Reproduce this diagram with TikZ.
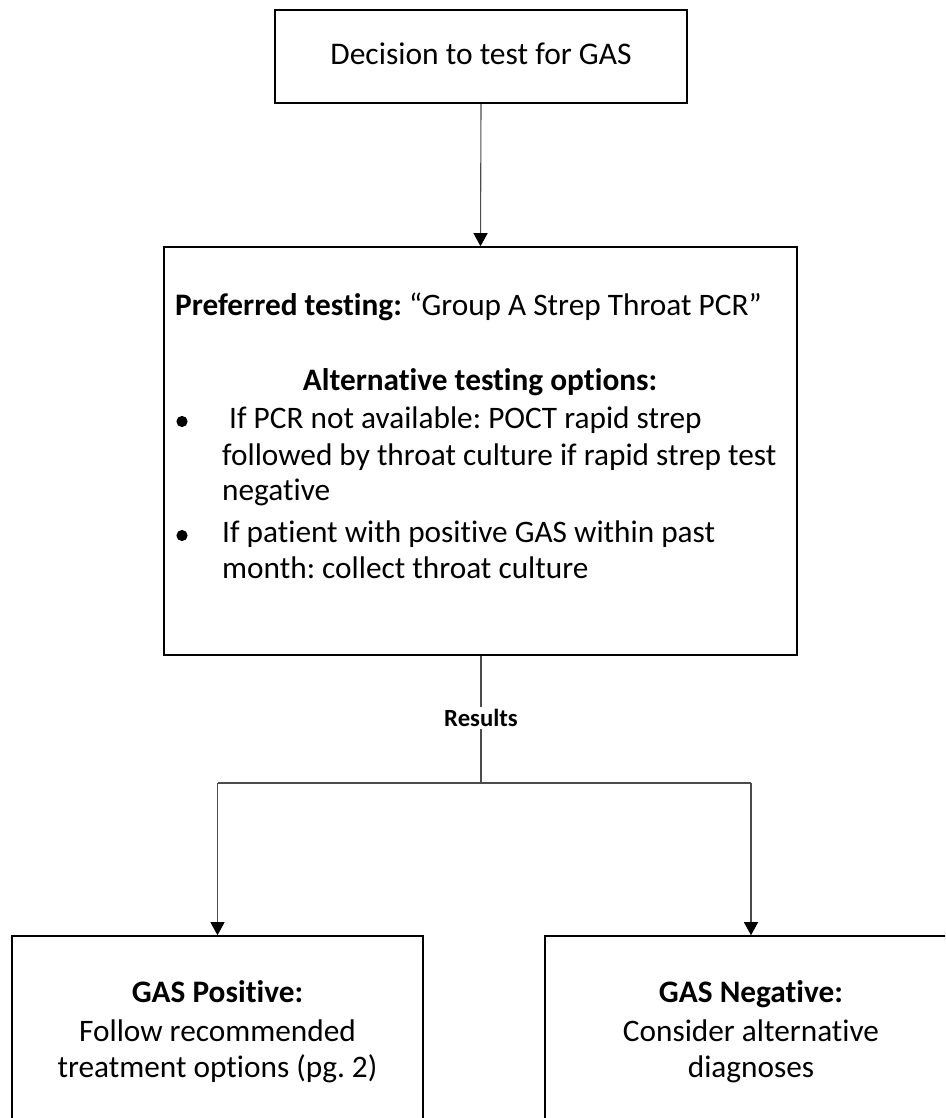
\documentclass[tikz,border=0pt]{standalone}
\usepackage{fontspec}
\setmainfont{Carlito}[RawFeature={-liga;-clig}]
\usetikzlibrary{arrows.meta}
\frenchspacing
\begin{document}
\begin{tikzpicture}[x=1pt,y=-1pt,
  boxnode/.style={draw=black,line width=1.6pt,rectangle,inner sep=0pt},
  conn/.style={draw=black!70,line width=1.1pt},
  arr/.style={conn,-{Triangle[width=14pt,length=13pt,fill=black,color=black]}},
  txt/.style={inner sep=0pt,font=\fontsize{31.3}{37}\selectfont\frenchspacing},
  bigtxt/.style={inner sep=0pt,font=\fontsize{31.5}{40}\selectfont},
  lbl/.style={inner sep=2pt,fill=white,font=\fontsize{24.7}{28}\selectfont\bfseries}]
\useasboundingbox (0,0) rectangle (945,1118);
\clip (0,0) rectangle (945,1118);
% boxes
\node[boxnode,minimum width=412pt,minimum height=93pt] (b1) at (481,56.5) {};
\node[boxnode,minimum width=633pt,minimum height=408pt] (b2) at (480.5,451) {};
\node[boxnode,minimum width=411pt,minimum height=200pt] (b3) at (217.5,1036) {};
\node[boxnode,minimum width=412pt,minimum height=200pt] (b4) at (751,1036) {};
% box 1 text
\node[bigtxt,anchor=base] (t1) at (481,65) {Decision to test for GAS};
% box 2 text
\node[txt,anchor=base west] (t2) at (175,315) {\textbf{Preferred testing:} “Group A Strep Throat PCR”};
\node[txt,anchor=base] (t3) at (480,390) {\textbf{Alternative testing options:}};
\fill (182,421.5) circle (5.6);
\fill (182,535.5) circle (5.6);
\node[txt,anchor=base west] (t4) at (229,428) {If PCR not available: POCT rapid strep};
\node[txt,anchor=base west] (t5) at (222,465) {followed by throat culture if rapid strep test};
\node[txt,anchor=base west] (t6) at (222,500) {negative};
\node[txt,anchor=base west] (t7) at (222,542) {If patient with positive GAS within past};
\node[txt,anchor=base west] (t8) at (222,578) {month: collect throat culture};
% bottom left text
\node[txt,anchor=base] (t9) at (217.5,1002) {\textbf{GAS Positive:}};
\node[txt,anchor=base] (t10) at (217.5,1041) {Follow recommended};
\node[txt,anchor=base] (t11) at (217.5,1077) {treatment options (pg. 2)};
% bottom right text
\node[txt,anchor=base] (t12) at (751,1002) {\textbf{GAS Negative:}};
\node[txt,anchor=base] (t13) at (751,1041) {Consider alternative};
\node[txt,anchor=base] (t14) at (751,1077) {diagnoses};
% connectors
\draw[arr] (b1.south) -- (b2.north);
\coordinate (split) at (481,783);
\coordinate (sl) at (b3.north |- split);
\coordinate (sr) at (b4.north |- split);
\draw[conn] (b2.south -| split) -- (split);
\draw[conn] (sl) -- (sr);
\draw[arr] (sl) -- (b3.north);
\draw[arr] (sr) -- (b4.north);
\node[lbl] (res) at (481,718) {Results};
\end{tikzpicture}
\end{document}
